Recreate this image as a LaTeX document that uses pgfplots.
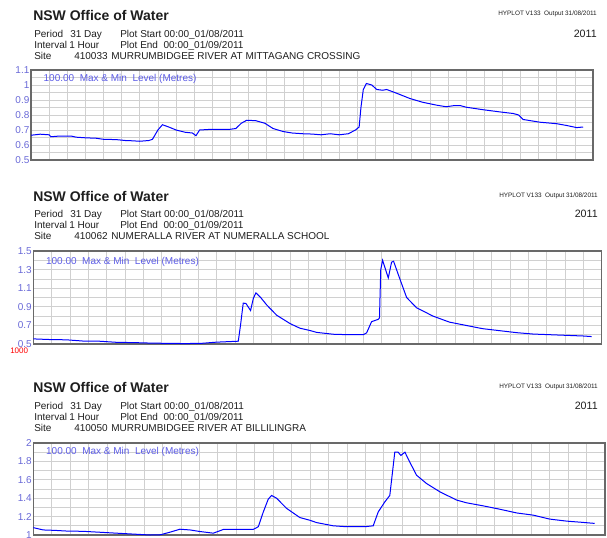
\documentclass[border=0pt]{standalone}
\usepackage{fontspec}
\setmainfont{Liberation Sans}
\usepackage{pgfplots}
\pgfplotsset{compat=1.18}
\definecolor{lineblue}{RGB}{92,92,230}
\definecolor{lblblue}{RGB}{105,105,215}
\definecolor{gridgray}{RGB}{208,208,208}
\definecolor{framegray}{RGB}{105,105,105}
\definecolor{txt}{RGB}{30,30,30}
\pgfplotsset{hyplot/.style={
  scale only axis,
  anchor=south west,
  xmin=0,xmax=31,
  xtick={0,...,31}, xticklabels={}, minor xtick={},
  major tick length=0pt, minor tick length=0pt,
  xmajorgrids, ymajorgrids, yminorgrids,
  major grid style={gridgray, line width=0.5pt},
  minor grid style={gridgray, line width=0.5pt},
  axis line style={framegray, line width=0.9pt},
  yticklabel style={font=\fontsize{7.5}{8}\selectfont, text=lblblue, inner sep=1pt},
  /pgf/number format/assume math mode=true,
  every axis plot/.append style={lineblue, line width=0.75pt, no markers},
}}
\newcommand\hdrfont{\fontsize{7.5}{8}\selectfont\color{txt}}
\newcommand\legtext{\fontsize{7.5}{8}\selectfont\color{lineblue}100.00\ \ Max \& Min\ \ Level (Metres)}
\begin{document}
\begin{tikzpicture}[x=0.75pt,y=0.75pt]
% ---------------- Panel 1 ----------------
\node[anchor=base west,inner sep=0pt,font=\fontsize{10.5}{12}\selectfont\bfseries,text=txt] at (33,{537-20.7}) {NSW Office of Water};
\node[anchor=base east,inner sep=0pt,font=\fontsize{4.8}{5}\selectfont,text=txt] at (597,{537-16}) {HYPLOT V133\ \ Output 31/08/2011};
\node[anchor=base east,inner sep=0pt,font=\fontsize{8}{9}\selectfont,text=txt] at (597,{537-37.3}) {2011};
\node[anchor=base west,inner sep=0pt,font=\hdrfont] at (34,{537-37.3}) {Period};
\node[anchor=base west,inner sep=0pt,font=\hdrfont] at (70,{537-37.3}) {31 Day};
\node[anchor=base west,inner sep=0pt,font=\hdrfont] at (120,{537-37.3}) {Plot Start 00:00\_01/08/2011};
\node[anchor=base west,inner sep=0pt,font=\hdrfont] at (34,{537-48.3}) {Interval};
\node[anchor=base west,inner sep=0pt,font=\hdrfont] at (69,{537-48.3}) {1 Hour};
\node[anchor=base west,inner sep=0pt,font=\hdrfont] at (120,{537-48.3}) {Plot End\ \ 00:00\_01/09/2011};
\node[anchor=base west,inner sep=0pt,font=\hdrfont] at (34,{537-59}) {Site};
\node[anchor=base west,inner sep=0pt,font=\hdrfont] at (74,{537-59}) {410033};
\node[anchor=base west,inner sep=0pt,font=\hdrfont] at (111,{537-59}) {MURRUMBIDGEE RIVER AT MITTAGANG CROSSING};
\begin{axis}[hyplot, at={(23.25pt,282.75pt)}, width=421.5pt, height=67.5pt,
  ymin=0.5, ymax=1.1, ytick={0.5,0.6,0.7,0.8,0.9,1,1.1}, minor ytick={0.55,0.65,0.75,0.85,0.95,1.05}]
\node[anchor=north west,inner sep=0pt] at (rel axis cs:0.022,0.96) {\legtext};
\addplot coordinates {
(0,0.665) (0.5,0.672) (1.0,0.668) (1.1,0.655) (1.6,0.66) (2.2,0.66) (2.5,0.652)
(3.0,0.648) (3.6,0.645) (4.0,0.638) (4.7,0.636) (5.2,0.63) (5.6,0.628) (6.0,0.625)
(6.5,0.63) (6.7,0.638) (7.0,0.70) (7.25,0.735) (7.6,0.72) (8.0,0.70) (8.5,0.685)
(8.9,0.68) (9.1,0.662) (9.3,0.70) (10.0,0.705) (11.0,0.705) (11.3,0.71) (11.6,0.745)
(11.9,0.765) (12.4,0.762) (12.9,0.745) (13.35,0.71) (13.9,0.69) (14.4,0.68) (15.0,0.675)
(15.5,0.673) (16.0,0.668) (16.5,0.675) (17.0,0.668) (17.5,0.675) (17.9,0.70) (18.1,0.72)
(18.2,0.85) (18.33,0.97) (18.5,1.01) (18.8,1.0) (19.07,0.97) (19.4,0.965) (19.62,0.97)
(20.17,0.945) (20.9,0.91) (21.6,0.885) (22.4,0.865) (22.9,0.855) (23.3,0.862) (23.7,0.862)
(24.0,0.852) (24.95,0.835) (25.9,0.82) (26.6,0.81) (26.9,0.80) (27.15,0.77) (28.07,0.752)
(29.0,0.742) (29.55,0.73) (30.1,0.716) (30.46,0.72)
};
\end{axis}
% ---------------- Panel 2 ----------------
\node[anchor=base west,inner sep=0pt,font=\fontsize{10.5}{12}\selectfont\bfseries,text=txt] at (33,{537-201}) {NSW Office of Water};
\node[anchor=base east,inner sep=0pt,font=\fontsize{4.8}{5}\selectfont,text=txt] at (598,{537-197}) {HYPLOT V133\ \ Output 31/08/2011};
\node[anchor=base east,inner sep=0pt,font=\fontsize{8}{9}\selectfont,text=txt] at (598,{537-217.6}) {2011};
\node[anchor=base west,inner sep=0pt,font=\hdrfont] at (34,{537-217.6}) {Period};
\node[anchor=base west,inner sep=0pt,font=\hdrfont] at (70,{537-217.6}) {31 Day};
\node[anchor=base west,inner sep=0pt,font=\hdrfont] at (120,{537-217.6}) {Plot Start 00:00\_01/08/2011};
\node[anchor=base west,inner sep=0pt,font=\hdrfont] at (34,{537-228.6}) {Interval};
\node[anchor=base west,inner sep=0pt,font=\hdrfont] at (69,{537-228.6}) {1 Hour};
\node[anchor=base west,inner sep=0pt,font=\hdrfont] at (120,{537-228.6}) {Plot End\ \ 00:00\_01/09/2011};
\node[anchor=base west,inner sep=0pt,font=\hdrfont] at (34,{537-239.3}) {Site};
\node[anchor=base west,inner sep=0pt,font=\hdrfont] at (74,{537-239.3}) {410062};
\node[anchor=base west,inner sep=0pt,font=\hdrfont] at (111,{537-239.3}) {NUMERALLA RIVER AT NUMERALLA SCHOOL};
\begin{axis}[hyplot, at={(24.975pt,144.75pt)}, width=426.3pt, height=69.75pt,
  ymin=0.5, ymax=1.5, ytick={0.5,0.7,0.9,1.1,1.3,1.5}, minor ytick={0.6,0.8,1.0,1.2,1.4}]
\node[anchor=north west,inner sep=0pt] at (rel axis cs:0.022,0.94) {\legtext};
\addplot coordinates {
(0,0.555) (0.9,0.548) (1.8,0.545) (2.7,0.532) (3.6,0.53) (4.55,0.518) (5.5,0.515)
(6.36,0.51) (7.3,0.507) (8.18,0.505) (9.1,0.506) (10.0,0.52) (10.6,0.525) (11.18,0.53)
(11.3,0.70) (11.45,0.94) (11.6,0.935) (11.85,0.86) (12.0,0.99) (12.14,1.05) (12.4,1.0)
(12.73,0.92) (13.27,0.81) (14.0,0.72) (14.54,0.67) (15.09,0.645) (15.45,0.625) (16.36,0.605)
(17.2,0.60) (18.0,0.60) (18.18,0.62) (18.45,0.74) (18.81,0.765) (18.88,0.78) (18.95,1.30)
(19.05,1.40) (19.36,1.21) (19.54,1.38) (19.65,1.39) (19.9,1.25) (20.36,1.0) (20.9,0.89)
(21.8,0.80) (22.7,0.735) (23.6,0.70) (24.5,0.665) (25.45,0.643) (26.36,0.622) (27.26,0.607)
(28.17,0.600) (29.08,0.593) (30.0,0.586) (30.45,0.58)
};
\end{axis}
\begin{scope}
\clip (0,{537-353}) rectangle (45,{537-345});
\node[anchor=north west,inner sep=0pt,font=\fontsize{6}{6}\selectfont,text=red] at (10,{537-348}) {1000};
\end{scope}
% ---------------- Panel 3 ----------------
\node[anchor=base west,inner sep=0pt,font=\fontsize{10.5}{12}\selectfont\bfseries,text=txt] at (33,{537-392}) {NSW Office of Water};
\node[anchor=base east,inner sep=0pt,font=\fontsize{4.8}{5}\selectfont,text=txt] at (598,{537-388}) {HYPLOT V133\ \ Output 31/08/2011};
\node[anchor=base east,inner sep=0pt,font=\fontsize{8}{9}\selectfont,text=txt] at (598,{537-409}) {2011};
\node[anchor=base west,inner sep=0pt,font=\hdrfont] at (34,{537-409}) {Period};
\node[anchor=base west,inner sep=0pt,font=\hdrfont] at (70,{537-409}) {31 Day};
\node[anchor=base west,inner sep=0pt,font=\hdrfont] at (120,{537-409}) {Plot Start 00:00\_01/08/2011};
\node[anchor=base west,inner sep=0pt,font=\hdrfont] at (34,{537-420}) {Interval};
\node[anchor=base west,inner sep=0pt,font=\hdrfont] at (69,{537-420}) {1 Hour};
\node[anchor=base west,inner sep=0pt,font=\hdrfont] at (120,{537-420}) {Plot End\ \ 00:00\_01/09/2011};
\node[anchor=base west,inner sep=0pt,font=\hdrfont] at (34,{537-431}) {Site};
\node[anchor=base west,inner sep=0pt,font=\hdrfont] at (74,{537-431}) {410050};
\node[anchor=base west,inner sep=0pt,font=\hdrfont] at (111,{537-431}) {MURRUMBIDGEE RIVER AT BILLILINGRA};
\begin{axis}[hyplot, at={(24.975pt,1.5pt)}, width=428.8pt, height=69pt,
  ymin=1, ymax=2, ytick={1,1.2,1.4,1.6,1.8,2}, minor ytick={1.1,1.3,1.5,1.7,1.9}]
\node[anchor=north west,inner sep=0pt] at (rel axis cs:0.022,0.955) {\legtext};
\addplot coordinates {
(0,1.08) (0.54,1.055) (1.2,1.05) (1.81,1.043) (2.7,1.04) (3.61,1.03) (4.5,1.02)
(5.42,1.01) (6.33,1.0) (6.9,1.003) (7.4,1.03) (7.95,1.063) (8.5,1.055) (9.03,1.038)
(9.76,1.02) (10.3,1.06) (11.0,1.06) (11.92,1.06) (12.2,1.09) (12.47,1.25) (12.74,1.39)
(12.92,1.43) (13.19,1.40) (13.73,1.29) (14.45,1.19) (15.0,1.16) (15.36,1.135) (16.26,1.10)
(16.99,1.09) (18.07,1.092) (18.43,1.10) (18.7,1.25) (19.06,1.36) (19.33,1.43) (19.6,1.90)
(19.78,1.90) (19.93,1.865) (20.15,1.90) (20.42,1.79) (20.78,1.65) (21.32,1.56) (22.04,1.47)
(22.95,1.38) (23.49,1.35) (24.39,1.317) (25.3,1.28) (26.2,1.24) (27.1,1.216) (28.0,1.173)
(28.91,1.151) (29.81,1.137) (30.44,1.126)
};
\end{axis}
\pgfresetboundingbox
\path[use as bounding box] (0,0) rectangle (607,537);
\end{tikzpicture}
\end{document}
